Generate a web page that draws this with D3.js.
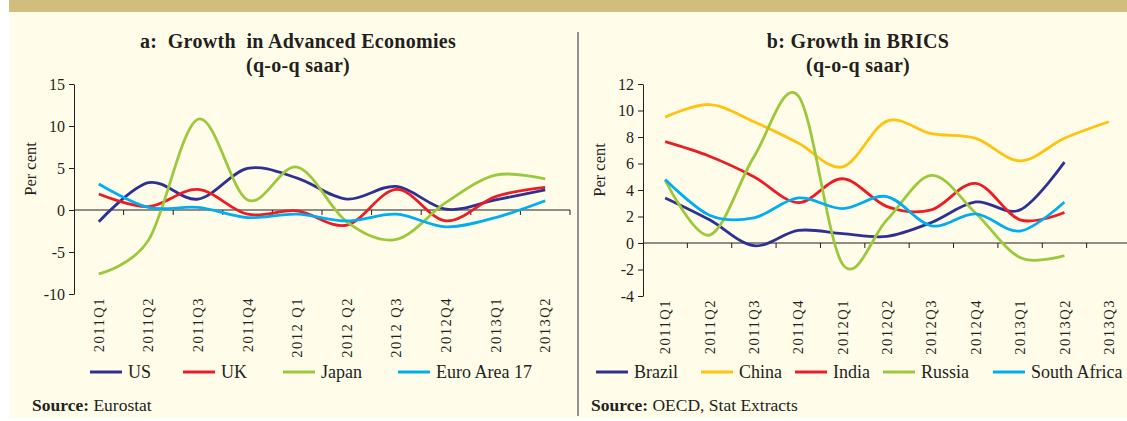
<!DOCTYPE html>
<html>
<head>
<meta charset="utf-8">
<script src="https://cdn.jsdelivr.net/npm/d3@7"></script>
<style>
  body { margin: 0; background: #fff; }
  svg { display: block; font-family: "Liberation Serif", "Times New Roman", serif; }
  .axis text { font-family: "Liberation Serif", "Times New Roman", serif; font-size: 16px; fill: #231f20; }
  .axis path, .axis line { stroke: #231f20; stroke-width: 1; }
</style>
</head>
<body>
<svg id="canvas" width="1127" height="421"></svg>
<script>
// panel a
let advCats = ['2011Q1', '2011Q2', '2011Q3', '2011Q4', '2012 Q1', '2012 Q2', '2012 Q3', '2012Q4', '2013Q1', '2013Q2']
let usData = [-1.4, 3.25, 1.3, 4.95, 3.8, 1.3, 2.8, 0.1, 1.2, 2.4]
let ukData = [1.9, 0.4, 2.45, -0.5, -0.1, -1.8, 2.45, -1.3, 1.6, 2.7]
let japanData = [-7.6, -3.6, 10.8, 1.2, 5.1, -1.4, -3.5, 0.9, 4.15, 3.7]
let euroData = [3.1, 0.3, 0.3, -0.9, -0.5, -1.3, -0.5, -2.0, -0.9, 1.1]
let advTicks = [-10, -5, 0, 5, 10, 15]

// panel b
let bricsCats = ['2011Q1', '2011Q2', '2011Q3', '2011Q4', '2012Q1', '2012Q2', '2012Q3', '2012Q4', '2013Q1', '2013Q2', '2013Q3']
let brazilData = [3.4, 1.75, -0.2, 0.95, 0.7, 0.5, 1.55, 3.1, 2.5, 6.1]
let chinaData = [9.5, 10.45, 9.15, 7.55, 5.75, 9.2, 8.25, 7.9, 6.2, 7.9, 9.15]
let indiaData = [7.65, 6.55, 5.0, 3.05, 4.85, 2.75, 2.5, 4.5, 1.75, 2.3]
let russiaData = [4.75, 0.6, 6.5, 11.1, -1.6, 1.75, 5.1, 2.25, -1.1, -0.95]
let safricaData = [4.8, 2.1, 1.9, 3.4, 2.6, 3.5, 1.3, 2.2, 0.9, 3.1]
let bricsTicks = [-4, -2, 0, 2, 4, 6, 8, 10, 12]

let navy = '#2e3192', red = '#ed1c24', green = '#9cc93b', cyan = '#00aeef', yellow = '#ffc20e'

let svg = d3.select('#canvas')

// background
svg.append('rect').attr('x', 9).attr('y', 0).attr('width', 1118).attr('height', 12).attr('fill', '#d1be7e')
svg.append('rect').attr('x', 9).attr('y', 12).attr('width', 1118).attr('height', 406).attr('fill', '#fffce9')
svg.append('line').attr('x1', 578).attr('x2', 578).attr('y1', 32).attr('y2', 416)
   .attr('stroke', '#6d6e71').attr('stroke-width', 1.5)

let drawPanel = (p) => {
    let g = svg.append('g')
    let x = d3.scaleBand().domain(p.cats).range([p.left, p.right])
    let y = d3.scaleLinear().domain(p.domain).range([p.bottom, p.top])

    // titles
    g.append('text').attr('x', p.titleX).attr('y', 48).attr('text-anchor', 'middle')
     .attr('font-weight', 'bold').attr('font-size', 20).attr('letter-spacing', '0.3px').attr('fill', '#231f20')
     .attr('xml:space', 'preserve').text(p.title)
    g.append('text').attr('x', p.titleX).attr('y', 72).attr('text-anchor', 'middle')
     .attr('font-weight', 'bold').attr('font-size', 20).attr('letter-spacing', '0.3px').attr('fill', '#231f20')
     .text('(q-o-q saar)')

    // y axis
    g.append('g').attr('class', 'axis')
     .attr('transform', 'translate(' + p.left + ',0)')
     .call(d3.axisLeft(y).tickValues(p.ticks).tickFormat((d) => String(d))
        .tickSize(5).tickSizeOuter(0).tickPadding(4))

    g.append('text').attr('transform', 'translate(' + p.labelX + ',' + ((p.top + p.bottom) / 2 - 20) + ') rotate(-90)')
     .attr('text-anchor', 'middle').attr('font-size', 16.5).attr('fill', '#231f20').text('Per cent')

    // x axis on zero line
    let zero = y(0)
    g.append('line').attr('x1', p.left).attr('x2', p.right).attr('y1', zero).attr('y2', zero)
     .attr('stroke', '#231f20')
    g.selectAll('.xtick').data(p.cats).enter().append('line')
     .attr('x1', (d) => x(d) + x.bandwidth()).attr('x2', (d) => x(d) + x.bandwidth())
     .attr('y1', zero).attr('y2', zero + 5).attr('stroke', '#231f20')

    g.selectAll('.xlab').data(p.cats).enter().append('text')
     .attr('transform', (d) => 'translate(' + (x(d) + x.bandwidth() / 2) + ',' + (p.bottom + 3) + ') rotate(-90)')
     .attr('text-anchor', 'end').attr('dy', '0.35em')
     .attr('font-size', 14.5).attr('letter-spacing', '1.5px').attr('fill', '#231f20')
     .text((d) => d)

    // lines
    let line = d3.line()
        .x((d, i) => x(p.cats[i]) + x.bandwidth() / 2)
        .y((d) => y(d))
        .curve(d3.curveCatmullRom.alpha(0))
    p.series.forEach((s) => {
        g.append('path').datum(s.values).attr('d', line)
         .attr('fill', 'none').attr('stroke', s.color).attr('stroke-width', 2.8)
    })

    // legend
    p.series.forEach((s) => {
        g.append('line').attr('x1', s.lx).attr('x2', s.lx + 32).attr('y1', 372).attr('y2', 372)
         .attr('stroke', s.color).attr('stroke-width', 3)
        g.append('text').attr('x', s.lx + 38).attr('y', 378).attr('font-size', 18)
         .attr('fill', '#231f20').text(s.name)
    })

    // source
    let src = g.append('text').attr('x', p.srcX).attr('y', 411).attr('font-size', 17.5).attr('fill', '#231f20')
    src.append('tspan').attr('font-weight', 'bold').text('Source: ')
    src.append('tspan').text(p.source)
}

drawPanel({
    cats: advCats, left: 74, right: 570, top: 84, bottom: 294, domain: [-10, 15], ticks: advTicks,
    title: 'a:  Growth  in Advanced Economies', titleX: 298, labelX: 36, srcX: 32, source: 'Eurostat',
    series: [
        {name: 'US', values: usData, color: navy, lx: 90},
        {name: 'UK', values: ukData, color: red, lx: 183},
        {name: 'Japan', values: japanData, color: green, lx: 283},
        {name: 'Euro Area 17', values: euroData, color: cyan, lx: 398}
    ]
})

drawPanel({
    cats: bricsCats, left: 643, right: 1131, top: 84, bottom: 296, domain: [-4, 12], ticks: bricsTicks,
    title: 'b: Growth in BRICS', titleX: 858, labelX: 605, srcX: 591, source: 'OECD, Stat Extracts',
    series: [
        {name: 'Brazil', values: brazilData, color: navy, lx: 596},
        {name: 'China', values: chinaData, color: yellow, lx: 701},
        {name: 'India', values: indiaData, color: red, lx: 795},
        {name: 'Russia', values: russiaData, color: green, lx: 883},
        {name: 'South Africa', values: safricaData, color: cyan, lx: 993}
    ]
})
</script>
</body>
</html>
